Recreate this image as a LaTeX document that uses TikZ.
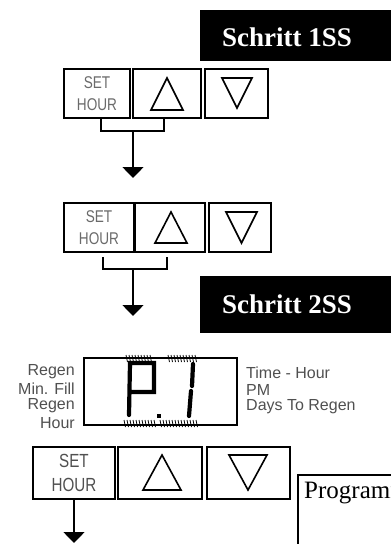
\documentclass[tikz,border=0pt]{standalone}
\usepackage{fontspec}
\setmainfont{Liberation Serif}
\newfontfamily\arialf{Liberation Sans}
\newfontfamily\narrowf[FakeStretch=0.8]{Liberation Sans}
\usetikzlibrary{arrows.meta}
\definecolor{lbl}{HTML}{505050}
\definecolor{lbllight}{HTML}{6A6A6A}
\tikzset{
  x=1pt,y=-1pt,
  btn/.style={draw, line width=1.7pt, inner sep=0pt},
  hdrtext/.style={text=white, font=\bfseries\fontsize{27}{27}\selectfont, anchor=west, inner sep=0pt},
  conn/.style={line width=1.6pt},
  arr/.style={line width=1.6pt, -{Triangle[width=21pt,length=11pt]}},
  tri/.style={line width=1.6pt, line join=miter},
  seg/.style={line width=4.2pt},
  tick/.style={line width=0.8pt},
  lab/.style={font=\arialf\fontsize{16}{17}\selectfont, text=lbl, inner sep=0pt},
  smallset/.style={font=\narrowf\fontsize{17}{22}\selectfont, text=lbllight, align=center},
  bigset/.style={font=\narrowf\fontsize{19}{24}\selectfont, text=lbl, align=center}
}
\begin{document}
\begin{tikzpicture}
\useasboundingbox (0,0) rectangle (391,544);
\begin{scope}
\clip (0,0) rectangle (391,544);
% Schritt 1SS
\fill (200,10) rectangle (400,61);
\node[hdrtext] (h1) at (222,37) {Schritt 1SS};
% Row 1
\node[btn, minimum width=66, minimum height=49] (s1) at (97,93.5) {};
\node[smallset] (s1t) at (s1.center) {SET\\HOUR};
\node[btn, minimum width=68, minimum height=49] (u1) at (167,93.5) {};
\node[btn, minimum width=63, minimum height=49] (d1) at (236.5,93.5) {};
\draw[tri] (151,110) -- (167,78) -- (183,110) -- cycle;
\draw[tri] (222,78) -- (252,78) -- (237,108) -- cycle;
\coordinate (b1l) at (101,118);
\coordinate (b1r) at (164,118);
\coordinate (b1m) at (133,131);
\coordinate (a1) at (133,178);
\draw[conn] (b1l) |- (b1m) -| (b1r);
\draw[arr] (b1m) -- (a1);
% Row 2
\node[btn, minimum width=70, minimum height=49] (s2) at (99,227.5) {};
\node[smallset] (s2t) at (s2.center) {SET\\HOUR};
\node[btn, minimum width=71, minimum height=49] (u2) at (169.5,227.5) {};
\node[btn, minimum width=62, minimum height=49] (d2) at (240,227.5) {};
\draw[line width=3pt] (s2.north east) -- (s2.south east);
\draw[tri] (155,243) -- (171,212) -- (187,243) -- cycle;
\draw[tri] (226,212) -- (257,212) -- (241.5,243) -- cycle;
\coordinate (b2l) at (103,257);
\coordinate (b2r) at (167,257);
\coordinate (b2m) at (133,269);
\coordinate (a2) at (133,316);
\draw[conn] (b2l) |- (b2m) -| (b2r);
\draw[arr] (b2m) -- (a2);
% Schritt 2SS
\fill (200,276) rectangle (400,333);
\node[hdrtext] (h2) at (222,304) {Schritt 2SS};
% Display
\node[btn, line width=1.4pt, minimum width=153, minimum height=67] (disp) at (160.5,391.5) {};
% P
\draw[seg, line cap=round] (129,415) -- (130,363) -- (154,363) -- (154,392) -- (130,392);
\fill (157,414) rectangle (161,418);
% 1
\draw[seg, line cap=round] (193,364) -- (192,386);
\draw[seg, line cap=round] (191,391) -- (189,416);
% tick marks top
\foreach \xx in {126,129,132,135,138,141,144,147,150,168,171,174,177,180,183,186,189,192,195}
  \draw[tick] (\xx,355) -- (\xx+1.5,362);
\foreach \xx in {124,127,130,133,136,139,142,145,148,151,154,160,163,166,169,172,175,178,181,184,187,190,193,196}
  \draw[tick] (\xx,420) -- (\xx+1.5,427);
% left labels
\node[lab, anchor=east] (l1) at (75,372) {Regen};
\node[lab, anchor=east] (l2) at (75,389) {Min. Fill};
\node[lab, anchor=east] (l3) at (75,406) {Regen};
\node[lab, anchor=east] (l4) at (75,423) {Hour};
% right labels
\node[lab, anchor=west] (r1) at (246,373) {Time - Hour};
\node[lab, anchor=west] (r2) at (246,390) {PM};
\node[lab, anchor=west] (r3) at (246,407) {Days To Regen};
% Row 3
\node[btn, minimum width=82, minimum height=52] (s3) at (74,473) {};
\node[bigset] (s3t) at (s3.center) {SET\\HOUR};
\node[btn, minimum width=84, minimum height=52] (u3) at (160,473) {};
\node[btn, minimum width=83, minimum height=52] (d3) at (248.5,473) {};
\draw[tri] (143,490) -- (162,455) -- (181,490) -- cycle;
\draw[tri] (229,455) -- (267,455) -- (248,490) -- cycle;
\coordinate (a3) at (74,543);
\draw[arr] (s3.south) -- (a3);
% Program box
\draw[line width=1.4pt] (298,475) rectangle (420,600);
\node[font=\fontsize{25}{25}\selectfont, anchor=base west, inner sep=0pt] (prog) at (304,498) {Programmieren};
\end{scope}
\end{tikzpicture}
\end{document}
